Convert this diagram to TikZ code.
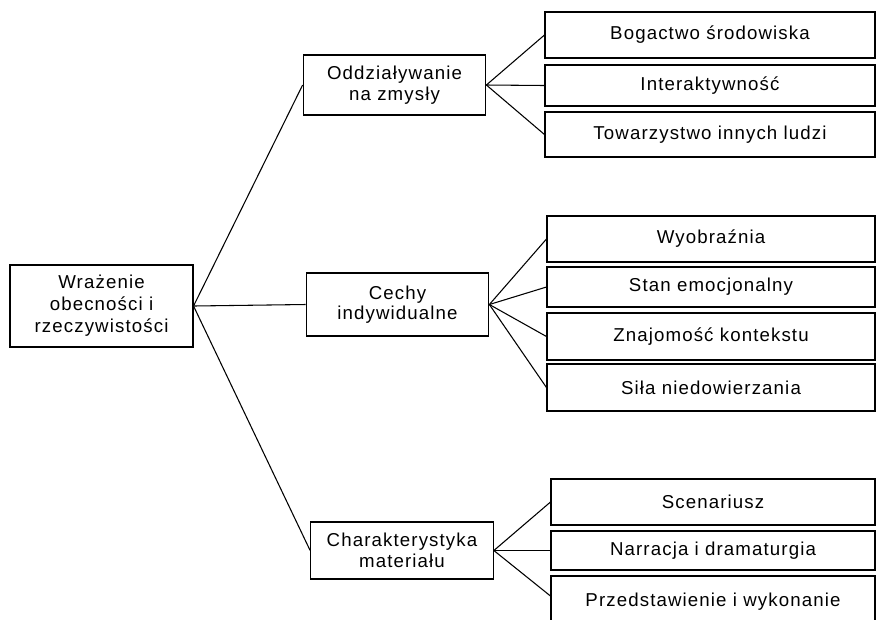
\documentclass[tikz,border=0pt]{standalone}
\usepackage{fontspec}
\setmainfont[LetterSpace=6]{Liberation Sans}
\begin{document}
\begin{tikzpicture}[x=0.75pt,y=-0.75pt,line width=0.8pt,
    every node/.append style={draw,inner sep=0pt,align=center,
        font=\fontsize{14}{15.5}\selectfont},
    mid/.style={minimum width=137pt,minimum height=45pt},
    leaf/.style={minimum width=247.5pt,minimum height=34.5pt}]
    \clip (0,0) rectangle (877,619);
    % root and middle level
    \node[minimum width=137.25pt,minimum height=61.5pt,
        font=\fontsize{14}{16.5}\selectfont] (root) at (101.5,306)
        {Wrażenie\\obecności i\\rzeczywistości};
    \node[mid] (zmysly) at (394.5,85) {Oddziaływanie\\na zmysły};
    \node[mid,minimum height=47.25pt] (cechy) at (397.5,304.5) {Cechy\\indywidualne};
    \node[mid,minimum height=42.75pt] (material) at (402,550.5) {Charakterystyka\\materiału};
    % leaves
    \node[leaf] (bogactwo) at (710,35) {Bogactwo środowiska};
    \node[leaf,minimum height=30.75pt] (interakcja) at (710,85.5) {Interaktywność};
    \node[leaf,minimum height=33.75pt] (towarzystwo) at (710,134.5) {Towarzystwo innych ludzi};
    \node[leaf,minimum width=246pt] (wyobraznia) at (711,239) {Wyobraźnia};
    \node[leaf,minimum width=246pt,minimum height=30pt] (emocje) at (711,287) {Stan emocjonalny};
    \node[leaf,minimum width=246pt,minimum height=35.25pt] (kontekst) at (711,336.5) {Znajomość kontekstu};
    \node[leaf,minimum width=246pt,minimum height=35.25pt] (niedowierzanie) at (711,387.5) {Siła niedowierzania};
    \node[leaf,minimum width=243pt] (scenariusz) at (713,502) {Scenariusz};
    \node[leaf,minimum width=243pt,minimum height=29.25pt] (narracja) at (713,550.5) {Narracja i dramaturgia};
    \node[leaf,minimum width=243pt,minimum height=42pt] (wykonanie) at (713,604) {\raisebox{7pt}{Przedstawienie i wykonanie}};
    % connectors
    \draw (root.east) -- (zmysly.west);
    \draw (root.east) -- (cechy.west);
    \draw (root.east) -- (material.west);
    \draw (zmysly.east) -- (bogactwo.west);
    \draw (zmysly.east) -- (interakcja.west);
    \draw (zmysly.east) -- (towarzystwo.west);
    \draw (cechy.east) -- (wyobraznia.west);
    \draw (cechy.east) -- (emocje.west);
    \draw (cechy.east) -- (kontekst.west);
    \draw (cechy.east) -- (niedowierzanie.west);
    \draw (material.east) -- (scenariusz.west);
    \draw (material.east) -- (narracja.west);
    \draw (material.east) -- ([yshift=6pt]wykonanie.west);
\end{tikzpicture}
\end{document}
